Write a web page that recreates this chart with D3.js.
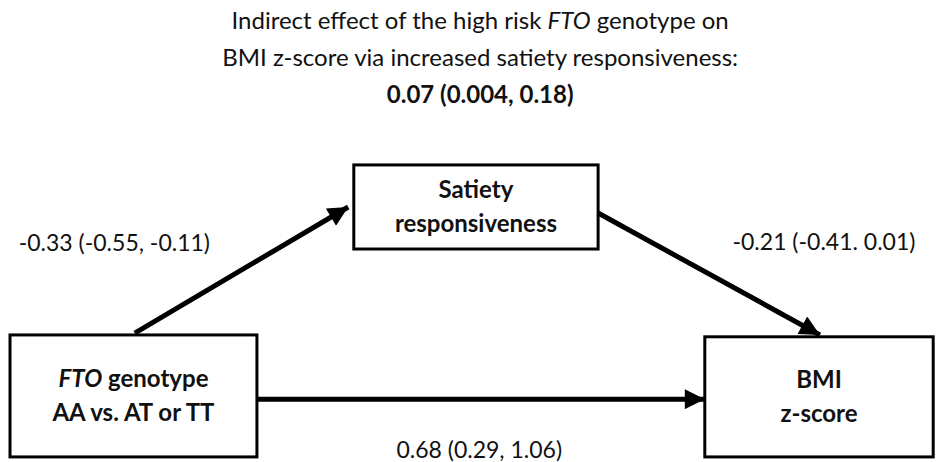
<!DOCTYPE html>
<html>
<head>
<meta charset="utf-8">
<script src="https://cdn.jsdelivr.net/npm/d3@7"></script>
<style>
  body { margin: 0; background: #fff; }
  svg { display: block; }
  text { font-family: Lato, "Open Sans", sans-serif; fill: #111; }
  .nodeBox { fill: #fff; stroke: #000; stroke-width: 3; }
  .edge { stroke: #000; stroke-width: 5; fill: none; }
</style>
</head>
<body>
<svg id="chart" width="936" height="462"></svg>
<script>
// Node labels (line by line; italic parts marked by the `it` flag)
var nodeIds = ['fto', 'satiety', 'bmi'];
var nodeLines = [
  [[{t: 'FTO', it: true}, {t: ' genotype'}], [{t: 'AA vs. AT or TT'}]],
  [[{t: 'Satiety'}], [{t: 'responsiveness'}]],
  [[{t: 'BMI'}], [{t: 'z-score'}]]
];

// Paths between nodes and their estimates (95% CI)
var edgeFrom = ['fto', 'satiety', 'fto'];
var edgeTo = ['satiety', 'bmi', 'bmi'];
var edgeEst = ['-0.33', '-0.21', '0.68'];
var edgeLow = ['-0.55', '-0.41', '0.29'];
var edgeHigh = ['-0.11', '0.01', '1.06'];
var edgeSep = [', ', '. ', ', '];

// Indirect effect
var titleLines = [
  [{t: 'Indirect effect of the high risk '}, {t: 'FTO', it: true}, {t: ' genotype on'}],
  [{t: 'BMI z-score via increased satiety responsiveness:'}]
];
var indirectEst = '0.07', indirectLow = '0.004', indirectHigh = '0.18';

// ---- layout ----
var svg = d3.select('#chart');
var W = 936, H = 462;

// diagram coordinate space mapped to pixels
var x = d3.scaleLinear().domain([0, 100]).range([0, W]);
var y = d3.scaleLinear().domain([0, 100]).range([0, H]);

var boxes = {
  fto:     {x0: 1.07, x1: 27.45, y0: 72.5, y1: 98.9},
  satiety: {x0: 37.8, x1: 63.9, y0: 35.7, y1: 53.9},
  bmi:     {x0: 75.3, x1: 99.7, y0: 72.9, y1: 98.9}
};

// arrow anchor points: start, end (tip)
var edgePts = [
  [[14.4, 72.1], [37.2, 44.8]],
  [[63.9, 46.1], [87.6, 72.5]],
  [[27.45, 86.4], [75.3, 86.4]]
];
var labelPos = [
  {x: 2.0, y: 52.5, anchor: 'start'},
  {x: 97.8, y: 52.3, anchor: 'end'},
  {x: 51.2, y: 97.3, anchor: 'middle'}
];

var defs = svg.append('defs');
defs.append('marker')
  .attr('id', 'head')
  .attr('viewBox', '0 0 10 10')
  .attr('refX', 10).attr('refY', 5)
  .attr('markerWidth', 4.6).attr('markerHeight', 4)
  .attr('markerUnits', 'strokeWidth')
  .attr('orient', 'auto')
  .append('path')
  .attr('d', 'M0,0 L10,5 L0,10 Z')
  .attr('fill', '#000');

// edges
var edges = edgeFrom.map(function(f, i) {
  return {from: f, to: edgeTo[i], pts: edgePts[i],
    label: edgeEst[i] + ' (' + edgeLow[i] + edgeSep[i] + edgeHigh[i] + ')',
    pos: labelPos[i]};
});

svg.selectAll('.edge')
  .data(edges)
  .enter().append('line')
  .attr('class', 'edge')
  .attr('x1', d => x(d.pts[0][0]))
  .attr('y1', d => y(d.pts[0][1]))
  .attr('x2', d => x(d.pts[1][0]))
  .attr('y2', d => y(d.pts[1][1]))
  .attr('marker-end', 'url(#head)');

svg.selectAll('.edgeLabel')
  .data(edges)
  .enter().append('text')
  .attr('class', 'edgeLabel')
  .attr('x', d => x(d.pos.x))
  .attr('y', d => y(d.pos.y))
  .attr('dy', '0.35em')
  .attr('text-anchor', d => d.pos.anchor)
  .style('font-size', '23px')
  .text(d => d.label);

// nodes
var nodes = nodeIds.map(function(id, i) { return {id: id, lines: nodeLines[i], b: boxes[id]}; });

var g = svg.selectAll('.node')
  .data(nodes)
  .enter().append('g')
  .attr('class', 'node');

g.append('rect')
  .attr('class', 'nodeBox')
  .attr('x', d => x(d.b.x0))
  .attr('y', d => y(d.b.y0))
  .attr('width', d => x(d.b.x1) - x(d.b.x0))
  .attr('height', d => y(d.b.y1) - y(d.b.y0));

g.each(function(d) {
  var cx = x((d.b.x0 + d.b.x1) / 2);
  var cy = y((d.b.y0 + d.b.y1) / 2);
  var n = d.lines.length, lh = 34;
  d.lines.forEach(function(line, li) {
    var t = d3.select(this).append('text')
      .attr('x', cx)
      .attr('y', cy + (li - (n - 1) / 2) * lh)
      .attr('dy', '0.35em')
      .attr('text-anchor', 'middle')
      .style('font-size', '24px')
      .style('font-weight', 'bold');
    line.forEach(function(p) {
      t.append('tspan').style('font-style', p.it ? 'italic' : 'normal').text(p.t);
    });
  }, this);
});

// title
var title = svg.append('g').attr('class', 'title');
var titleX = x(51.3), titleY = y(4.45), titleLh = 37;
titleLines.forEach(function(line, li) {
  var t = title.append('text')
    .attr('x', titleX)
    .attr('y', titleY + li * titleLh)
    .attr('dy', '0.35em')
    .attr('text-anchor', 'middle')
    .style('font-size', '24px');
  line.forEach(function(p) {
    t.append('tspan').style('font-style', p.it ? 'italic' : 'normal').text(p.t);
  });
});
title.append('text')
  .attr('x', titleX)
  .attr('y', titleY + 2 * titleLh)
  .attr('dy', '0.35em')
  .attr('text-anchor', 'middle')
  .style('font-size', '24px')
  .style('font-weight', 'bold')
  .text(indirectEst + ' (' + indirectLow + ', ' + indirectHigh + ')');
</script>
</body>
</html>
